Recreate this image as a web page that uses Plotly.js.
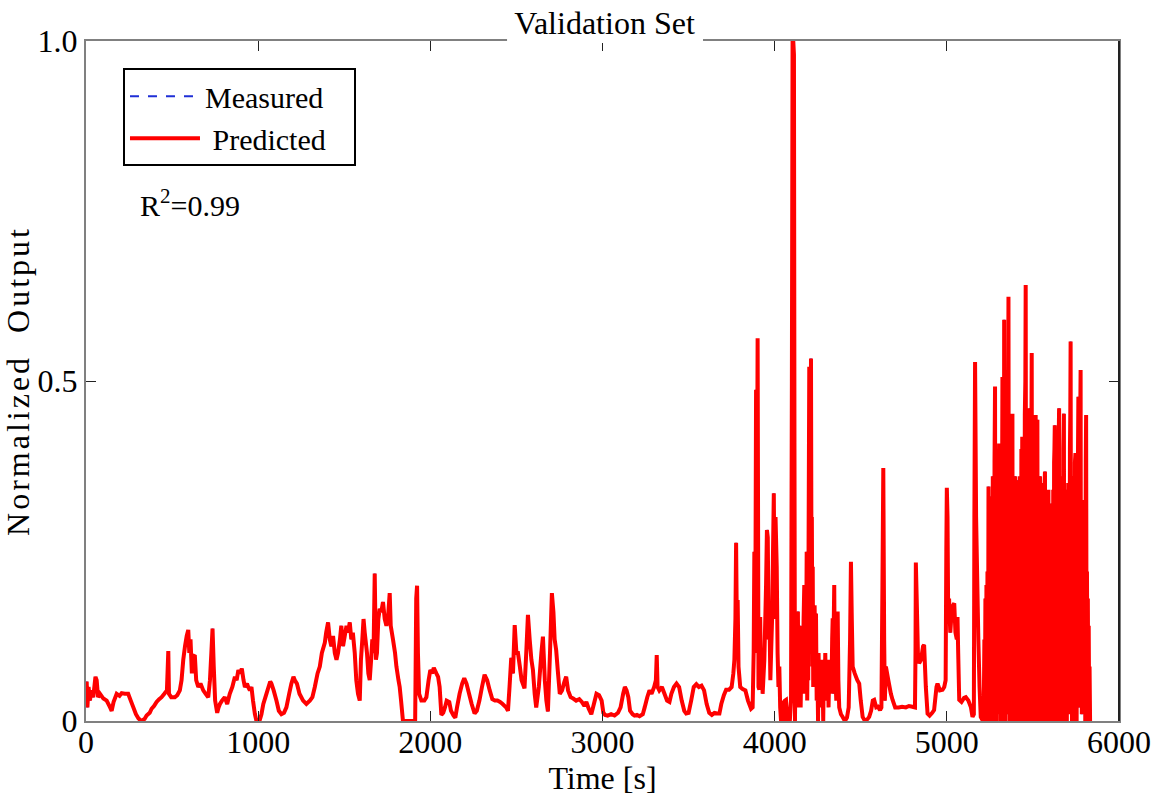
<!DOCTYPE html>
<html>
<head>
<meta charset="utf-8">
<script src="https://cdn.plot.ly/plotly-3.0.1.min.js"></script>
<style>
  html, body { margin: 0; padding: 0; background: #fff; }
  #chart { width: 1157px; height: 800px; }
</style>
</head>
<body>
<div id="chart"></div>
<script>
// Readings [time s, normalized output].
// Segment A: 0 - 2040 s
const segA = [[0,0.03],[4,0.058],[8,0.02],[15,0.05],[23,0.03],[30,0.045],[42,0.035],[55,0.065],[62,0.06],[70,0.035],[81,0.04],[101,0.033],[120,0.03],[140,0.02],[149,0.015],[160,0.028],[178,0.04],[195,0.037],[207,0.041],[225,0.04],[245,0.04],[260,0.03],[275,0.02],[290,0.01],[304,0.004],[320,0],[340,0.003],[352,0.008],[370,0.012],[381,0.018],[395,0.022],[410,0.028],[425,0.032],[439,0.035],[455,0.04],[470,0.045],[478,0.103],[482,0.04],[495,0.035],[516,0.035],[530,0.038],[545,0.045],[555,0.06],[565,0.09],[575,0.11],[585,0.125],[594,0.134],[600,0.1],[607,0.12],[615,0.07],[623,0.095],[632,0.097],[640,0.06],[652,0.05],[665,0.055],[681,0.045],[695,0.04],[710,0.035],[720,0.06],[728,0.1],[735,0.136],[742,0.08],[750,0.03],[762,0.012],[770,0.02],[778,0.025],[790,0.03],[806,0.035],[820,0.025],[835,0.04],[850,0.05],[865,0.065],[875,0.06],[885,0.075],[894,0.07],[905,0.077],[915,0.06],[923,0.05],[935,0.055],[942,0.05],[952,0.045],[961,0.05],[970,0.03],[981,0.01],[990,0],[1000,0],[1010,0.002],[1019,0.01],[1030,0.025],[1048,0.04],[1060,0.05],[1070,0.058],[1077,0.055],[1090,0.045],[1106,0.03],[1120,0.015],[1135,0.01],[1150,0.012],[1164,0.02],[1180,0.04],[1193,0.055],[1205,0.065],[1213,0.06],[1225,0.055],[1240,0.04],[1261,0.03],[1280,0.025],[1300,0.03],[1315,0.035],[1329,0.05],[1345,0.07],[1358,0.08],[1370,0.1],[1387,0.115],[1395,0.13],[1406,0.145],[1416,0.12],[1425,0.11],[1435,0.125],[1445,0.1],[1455,0.09],[1464,0.1],[1475,0.12],[1483,0.14],[1493,0.11],[1503,0.125],[1513,0.14],[1522,0.13],[1532,0.145],[1541,0.12],[1550,0.13],[1561,0.1],[1570,0.06],[1580,0.04],[1590,0.03],[1597,0.09],[1605,0.12],[1612,0.15],[1619,0.13],[1632,0.1],[1640,0.07],[1648,0.06],[1656,0.09],[1663,0.12],[1670,0.1],[1677,0.217],[1684,0.09],[1690,0.1],[1698,0.15],[1706,0.165],[1715,0.16],[1725,0.175],[1735,0.15],[1745,0.14],[1755,0.155],[1764,0.188],[1770,0.14],[1783,0.12],[1795,0.1],[1803,0.08],[1815,0.06],[1822,0.05],[1830,0.03],[1841,0],[1860,0],[1880,0],[1900,0],[1912,0.002],[1918,0.18],[1923,0.199],[1928,0.1],[1935,0.04],[1948,0.03],[1965,0.03],[1977,0.035],[1990,0.06],[2000,0.075],[2010,0.07],[2020,0.078],[2035,0.07]];

// Segment B: 2045 - 3750 s
const segB = [[2045,0.065],[2054,0.05],[2064,0.009],[2075,0.012],[2085,0.02],[2095,0.03],[2110,0.028],[2120,0.015],[2135,0.008],[2145,0.005],[2155,0.02],[2170,0.04],[2185,0.055],[2197,0.063],[2210,0.055],[2225,0.04],[2240,0.025],[2257,0.011],[2270,0.015],[2285,0.03],[2300,0.05],[2315,0.068],[2330,0.06],[2345,0.045],[2360,0.032],[2375,0.03],[2390,0.03],[2405,0.028],[2420,0.025],[2440,0.02],[2451,0.015],[2460,0.05],[2470,0.093],[2480,0.07],[2490,0.141],[2500,0.1],[2509,0.1],[2520,0.08],[2530,0.06],[2547,0.048],[2557,0.1],[2567,0.156],[2577,0.12],[2587,0.09],[2596,0.075],[2606,0.04],[2615,0.02],[2630,0.05],[2645,0.1],[2654,0.124],[2665,0.06],[2674,0.03],[2683,0.014],[2695,0.1],[2706,0.188],[2715,0.16],[2722,0.12],[2731,0.104],[2740,0.075],[2752,0.04],[2765,0.045],[2779,0.058],[2789,0.065],[2800,0.045],[2815,0.035],[2830,0.033],[2847,0.03],[2865,0.032],[2880,0.028],[2895,0.022],[2906,0.028],[2920,0.018],[2935,0.01],[2950,0.025],[2965,0.04],[2980,0.038],[2995,0.03],[3005,0.012],[3015,0.009],[3030,0.008],[3050,0.01],[3070,0.008],[3090,0.012],[3105,0.02],[3120,0.04],[3130,0.05],[3140,0.045],[3150,0.035],[3160,0.015],[3175,0.01],[3186,0.008],[3200,0.009],[3215,0.007],[3234,0.01],[3245,0.02],[3260,0.035],[3273,0.045],[3285,0.04],[3300,0.05],[3310,0.06],[3315,0.097],[3320,0.05],[3330,0.045],[3345,0.05],[3360,0.04],[3375,0.03],[3389,0.028],[3400,0.04],[3415,0.05],[3430,0.055],[3445,0.05],[3460,0.03],[3475,0.015],[3486,0.011],[3500,0.012],[3515,0.03],[3530,0.05],[3545,0.054],[3560,0.05],[3575,0.052],[3590,0.045],[3605,0.025],[3620,0.012],[3635,0.009],[3650,0.012],[3665,0.011],[3679,0.011],[3690,0.025],[3705,0.038],[3718,0.046],[3735,0.046],[3750,0.05]];

// Segment C: 3760 - 5210 s
const segC = [[3760,0.07],[3766,0.09],[3772,0.15],[3776,0.262],[3781,0.12],[3785,0.178],[3790,0.08],[3800,0.05],[3814,0.047],[3830,0.045],[3845,0.03],[3863,0.018],[3872,0.02],[3878,0.1],[3882,0.249],[3887,0.1],[3892,0.487],[3896,0.2],[3901,0.563],[3906,0.05],[3911,0.046],[3916,0.153],[3921,0.05],[3926,0.08],[3930,0.04],[3940,0.09],[3950,0.2],[3955,0.281],[3960,0.27],[3965,0.12],[3970,0.153],[3975,0.06],[3985,0.15],[3995,0.335],[4000,0.15],[4005,0.3],[4012,0.227],[4017,0.1],[4022,0.05],[4027,0.08],[4032,0.02],[4037,0],[4045,0.03],[4052,0],[4060,0.03],[4066,0.031],[4075,0],[4080,0.02],[4088,0],[4095,0.03],[4100,0.5],[4104,1.0],[4108,1.0],[4112,0.98],[4115,0.4],[4118,0],[4121,0.08],[4125,0.15],[4128,0.02],[4131,0.12],[4135,0.161],[4138,0.03],[4141,0.1],[4144,0.06],[4148,0.14],[4151,0.02],[4155,0.09],[4158,0.04],[4161,0.12],[4165,0.05],[4168,0.15],[4172,0.2],[4175,0.04],[4178,0.13],[4182,0.07],[4186,0.249],[4189,0.03],[4192,0.12],[4195,0.06],[4197,0.26],[4201,0.521],[4204,0.1],[4206,0.3],[4208,0.15],[4211,0.533],[4214,0.2],[4216,0.3],[4219,0.08],[4221,0.227],[4224,0.05],[4227,0.14],[4230,0.06],[4232,0.17],[4236,0.09],[4240,0.158],[4244,0.03],[4248,0.08],[4252,0],[4255,0.1],[4259,0.04],[4263,0.09],[4268,0.02],[4271,0.08],[4275,0.03],[4278,0.07],[4282,0],[4286,0.09],[4290,0.04],[4294,0.1],[4298,0.046],[4301,0.08],[4305,0.03],[4309,0.09],[4313,0.02],[4317,0.07],[4320,0.04],[4325,0.09],[4330,0.05],[4334,0.12],[4337,0.151],[4341,0.04],[4343,0.14],[4346,0.2],[4349,0.08],[4352,0.15],[4355,0.05],[4358,0.03],[4362,0.1],[4366,0.161],[4370,0.06],[4375,0.02],[4385,0.01],[4395,0.006],[4408,0],[4420,0.005],[4430,0.02],[4438,0.12],[4443,0.234],[4448,0.15],[4453,0.08],[4465,0.07],[4480,0.06],[4491,0.055],[4500,0.03],[4511,0.006],[4525,0],[4540,0.003],[4549,0.006],[4560,0.015],[4570,0.03],[4578,0.031],[4590,0.02],[4600,0.021],[4612,0.016],[4620,0.02],[4626,0.2],[4631,0.372],[4636,0.12],[4640,0.03],[4646,0.08],[4660,0.06],[4675,0.04],[4685,0.031],[4700,0.02],[4720,0.02],[4740,0.021],[4762,0.02],[4780,0.022],[4800,0.021],[4815,0.02],[4818,0.1],[4820,0.233],[4825,0.18],[4832,0.1],[4839,0.085],[4850,0.09],[4862,0.11],[4868,0.112],[4878,0.05],[4888,0.011],[4900,0.008],[4915,0.012],[4926,0.016],[4940,0.05],[4946,0.055],[4960,0.045],[4975,0.046],[4985,0.05],[4993,0.06],[4997,0.25],[5000,0.343],[5004,0.3],[5008,0.15],[5013,0.18],[5020,0.13],[5028,0.16],[5036,0.17],[5043,0.173],[5050,0.13],[5058,0.12],[5062,0.153],[5066,0.1],[5072,0.031],[5085,0.028],[5100,0.034],[5110,0.035],[5125,0.03],[5140,0.02],[5149,0.006],[5157,0.01],[5160,0.3],[5164,0.528],[5170,0.3],[5178,0.188],[5183,0.12],[5190,0.05],[5197,0.006],[5210,0]];

// Segment D: 5214 - 5835 s (dense oscillation block)
const segD = [[5214,0],[5218,0.12],[5221,0.01],[5224,0.18],[5227,0],[5230,0.2],[5233,0.02],[5236,0.22],[5238,0],[5240,0.1],[5242,0.345],[5245,0.02],[5247,0.25],[5250,0],[5252,0.3],[5255,0.01],[5257,0.33],[5260,0.02],[5262,0.28],[5265,0.046],[5267,0.36],[5270,0],[5272,0.31],[5275,0.03],[5277,0.38],[5280,0.492],[5282,0.05],[5285,0.34],[5287,0],[5290,0.31],[5292,0.02],[5294,0.031],[5296,0.37],[5299,0.01],[5301,0.3],[5304,0.408],[5306,0.03],[5309,0.33],[5311,0],[5313,0.006],[5316,0.4],[5318,0.04],[5321,0.35],[5323,0.506],[5326,0],[5328,0.32],[5331,0.02],[5333,0.59],[5336,0.03],[5338,0.36],[5341,0],[5343,0.3],[5346,0.41],[5348,0.01],[5351,0.34],[5353,0.03],[5356,0.45],[5358,0.624],[5361,0.02],[5363,0.38],[5366,0],[5368,0.37],[5371,0.03],[5373,0.32],[5376,0.01],[5378,0.4],[5381,0.452],[5383,0],[5386,0.35],[5388,0.02],[5391,0.3],[5393,0.05],[5396,0.36],[5398,0.33],[5401,0],[5403,0.34],[5406,0.02],[5408,0.354],[5411,0.03],[5413,0.35],[5416,0],[5418,0.31],[5420,0.016],[5423,0.36],[5425,0.01],[5428,0.32],[5430,0],[5433,0.4],[5435,0.04],[5438,0.418],[5440,0.01],[5443,0.37],[5445,0],[5448,0.4],[5450,0.02],[5453,0.45],[5456,0.5],[5458,0.641],[5461,0.03],[5463,0.32],[5466,0],[5468,0.36],[5471,0.02],[5473,0.35],[5476,0],[5478,0.42],[5481,0.46],[5483,0.02],[5486,0.37],[5488,0.01],[5491,0.4],[5493,0.541],[5496,0],[5498,0.34],[5501,0.03],[5503,0.32],[5506,0.021],[5508,0.4],[5511,0],[5513,0.38],[5516,0.45],[5518,0.02],[5521,0.35],[5523,0.01],[5526,0.443],[5528,0.02],[5531,0.33],[5533,0],[5536,0.3],[5538,0.006],[5541,0.36],[5543,0],[5545,0.345],[5548,0.04],[5550,0.32],[5553,0.01],[5555,0.34],[5558,0.031],[5560,0.35],[5563,0],[5565,0.3],[5568,0.35],[5570,0.367],[5573,0.02],[5575,0.3],[5578,0],[5580,0.32],[5583,0.011],[5585,0.29],[5588,0.02],[5590,0.34],[5593,0],[5595,0.26],[5598,0.2],[5600,0.01],[5603,0.3],[5605,0],[5608,0.32],[5610,0.006],[5613,0.28],[5615,0.01],[5618,0.34],[5620,0],[5623,0.38],[5625,0.4],[5627,0.435],[5630,0],[5632,0.32],[5635,0.011],[5637,0.37],[5640,0.01],[5642,0.35],[5645,0],[5647,0.4],[5650,0.42],[5652,0.46],[5655,0.02],[5657,0.33],[5660,0],[5662,0.31],[5665,0.016],[5667,0.36],[5670,0],[5672,0.34],[5675,0.01],[5677,0.4],[5680,0.452],[5682,0.03],[5685,0.32],[5687,0],[5690,0.3],[5692,0.011],[5695,0.34],[5697,0],[5700,0.325],[5702,0.02],[5705,0.35],[5707,0.01],[5710,0.29],[5712,0.016],[5715,0.4],[5717,0.45],[5719,0.558],[5722,0.02],[5724,0.33],[5727,0],[5729,0.31],[5732,0.011],[5734,0.36],[5737,0],[5739,0.34],[5742,0.01],[5744,0.38],[5747,0.394],[5749,0.02],[5752,0.37],[5754,0],[5757,0.35],[5759,0.2],[5762,0.4],[5764,0.477],[5767,0.02],[5769,0.38],[5772,0.05],[5774,0.42],[5777,0.516],[5779,0.03],[5782,0.32],[5784,0.01],[5787,0.325],[5789,0.02],[5792,0.28],[5794,0.01],[5797,0.25],[5799,0.011],[5802,0.3],[5804,0],[5807,0.38],[5809,0.45],[5812,0.01],[5814,0.22],[5817,0],[5819,0.18],[5822,0.006],[5824,0.14],[5827,0],[5829,0.08],[5832,0],[5835,0]];

// Measured and predicted are indistinguishable at the picture's resolution,
// so both series use the same readings.
const readings = segA.concat(segB, segC, segD);
const timeSec = readings.map(p => p[0]);
const predicted = readings.map(p => p[1]);
const measured = readings.map(p => p[1]);

const xTicks = [0, 1000, 2000, 3000, 4000, 5000, 6000];
const xTickText = ['0', '1000', '2000', '3000', '4000', '5000', '6000'];
const yTicks = [0, 0.5, 1.0];
const yTickText = ['0', '0.5', '1.0'];

const FONT = '"Liberation Serif", "Times New Roman", serif';
const NB = '\u00a0';

const traces = [
  {
    x: timeSec, y: measured, type: 'scatter', mode: 'lines',
    name: 'Measured',
    line: { color: '#1f2fd6', width: 2, dash: 'dash', simplify: false }
  },
  {
    x: timeSec, y: predicted, type: 'scatter', mode: 'lines',
    name: NB + 'Predicted' + NB + NB + NB,
    line: { color: '#ff0000', width: 4, simplify: false }
  }
];

const layout = {
  width: 1157, height: 800,
  margin: { l: 86, r: 38, t: 41, b: 79, pad: 0 },
  paper_bgcolor: '#ffffff', plot_bgcolor: '#ffffff',
  font: { family: FONT, size: 32, color: '#000' },
  showlegend: true,
  title: {
    text: 'Validation Set',
    font: { family: FONT, size: 32, color: '#000' },
    x: 0.502, xref: 'paper', xanchor: 'center',
    y: 0.972, yref: 'container', yanchor: 'middle'
  },
  xaxis: {
    range: [0, 6000], tickmode: 'array', tickvals: xTicks, ticktext: xTickText,
    ticks: 'inside', ticklen: 10, tickwidth: 1, tickcolor: '#222',
    showline: true, linecolor: '#808080', linewidth: 2, mirror: 'ticks',
    showgrid: false, zeroline: false, ticklabelstandoff: -8,
    tickfont: { family: FONT, size: 32, color: '#000' },
    title: { text: 'Time [s]', font: { family: FONT, size: 32, color: '#000' }, standoff: 0 }
  },
  yaxis: {
    range: [0, 1], tickmode: 'array', tickvals: yTicks, ticktext: yTickText,
    ticks: 'inside', ticklen: 10, tickwidth: 1, tickcolor: '#222',
    showline: true, linecolor: '#808080', linewidth: 2, mirror: 'ticks',
    showgrid: false, zeroline: false,
    tickfont: { family: FONT, size: 32, color: '#000' },
    title: { text: 'Normalized' + NB + NB + 'Output',
             font: { family: FONT, size: 32, color: '#000' }, standoff: 4 }
  },
  legend: {
    x: 0.0358, y: 0.960, xanchor: 'left', yanchor: 'top',
    bgcolor: '#ffffff', bordercolor: '#000000', borderwidth: 2,
    font: { family: FONT, size: 30, color: '#000' },
    itemwidth: 70, tracegroupgap: 0
  },
  annotations: [
    {
      text: 'R<sup>2</sup>=0.99', xref: 'paper', yref: 'paper',
      x: 0.0503, y: 0.762, xanchor: 'left', yanchor: 'middle',
      showarrow: false, font: { family: FONT, size: 30, color: '#000' }
    }
  ],
  shapes: [
    // white band behind the title, interrupting the top frame line
    { type: 'rect', xref: 'paper', yref: 'paper', x0: 0.4076, x1: 0.5973, y0: 0.997, y1: 1.008,
      fillcolor: '#ffffff', line: { width: 0 }, layer: 'above' },
    // darker right frame edge
    { type: 'line', xref: 'paper', yref: 'paper', x0: 1, x1: 1, y0: 0, y1: 1,
      line: { color: '#222', width: 2 }, layer: 'above' }
  ]
};

Plotly.newPlot('chart', traces, layout, { staticPlot: true, displayModeBar: false }).then(() => {
  // the reference's y-axis title is drawn wider than the plain font
  const yt = document.querySelector('#chart .ytitle');
  if (yt) { yt.style.letterSpacing = '3px'; }
});
</script>
</body>
</html>
